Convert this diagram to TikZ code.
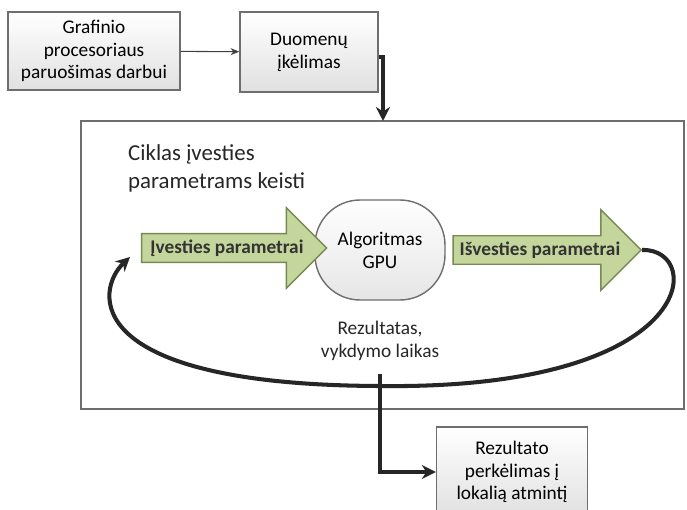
\documentclass[tikz,border=0pt]{standalone}
\usepackage{fontspec}
\setmainfont{Carlito}
\usepackage{tikz}
\usetikzlibrary{calc, arrows.meta, shapes.arrows}

\definecolor{olivefill}{RGB}{196,214,155}
\definecolor{oliveline}{RGB}{120,138,84}
\definecolor{frame}{RGB}{110,110,110}

\begin{document}
\begin{tikzpicture}[x=0.02cm, y=-0.02cm, font=\fontsize{11}{13}\selectfont,
    stepbox/.style={draw=frame, line width=0.8pt, top color=white, bottom color=black!12, align=center, inner sep=2pt},
    greenarrow/.style={single arrow, draw=oliveline, fill=olivefill, line width=0.8pt, minimum height=3.7cm,
        single arrow head extend=0.52cm, inner ysep=3pt, font=\fontsize{11}{13}\selectfont\bfseries\color{black!80}},
    thickline/.style={line width=2.3pt, black!85, -{Stealth[length=8pt,width=8pt]}}]
    \useasboundingbox (0,0) rectangle (687,510);
    % upper boxes
    \node[stepbox, minimum width=3.44cm, minimum height=1.56cm] (prep) at (94,51) {Grafinio\\procesoriaus\\paruošimas darbui};
    \node[stepbox, minimum width=2.76cm, minimum height=1.6cm] (load) at (309,52) {Duomenų\\įkėlimas};
    \draw[-{Stealth[length=5pt,width=4pt]}, black!75, line width=0.6pt] (prep) -- (load);
    % loop frame
    \draw[frame, line width=1.3pt, fill=white] (81,121) rectangle (684,409);
    \coordinate (framein) at (383,121);
    \draw[thickline] ([yshift=-3pt]load.east) -| (framein);
    \node[anchor=west, align=left, font=\fontsize{13}{16}\selectfont, text=black!85] (title) at (122,168) {Ciklas įvesties\\parametrams keisti};
    % algorithm
    \node[draw=frame, line width=0.8pt, top color=white, bottom color=black!10, rounded corners=0.9cm,
        minimum width=2.6cm, minimum height=2cm, align=center] (algo) at (380,250) {Algoritmas\\GPU};
    \node[greenarrow] (inp) at (227,248) {Įvesties parametrai};
    \node[greenarrow] (outp) at (540,250) {Išvesties parametrai};
    \node[align=center, text=black!85] (rez) at (380,341) {Rezultatas,\\vykdymo laikas};
    \coordinate (loopend) at ([xshift=-0.22cm,yshift=-0.18cm]inp.tail);
    \draw[thickline] (outp.tip) .. controls (705,248) and (700,390) .. (380,386)
        .. controls (80,385) and (95,290) .. (loopend);
    % result box
    \node[stepbox, minimum width=3.02cm, minimum height=1.8cm] (copy) at (512,472) {Rezultato\\perkėlimas į\\lokalią atmintį};
    \draw[thickline] ([yshift=-4pt]rez.south) |- (copy.west);
\end{tikzpicture}
\end{document}
